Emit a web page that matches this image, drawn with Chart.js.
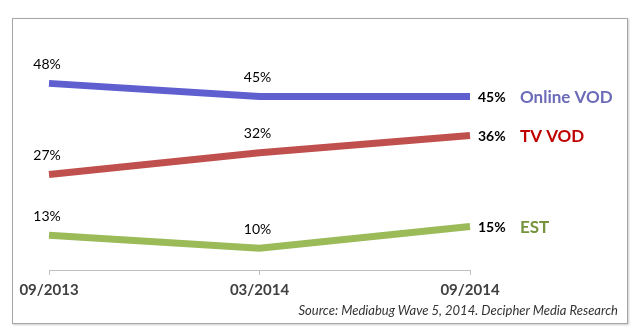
<!DOCTYPE html>
<html>
<head>
<meta charset="utf-8">
<script src="https://cdn.jsdelivr.net/npm/chart.js@4.4.0/dist/chart.umd.min.js"></script>
<style>
  body { margin: 0; background: #fff; }
  #wrap { position: relative; width: 636px; height: 333px; }
  #box { position: absolute; left: 12px; top: 18px; width: 614px; height: 304px; border: 1px solid #a6a6a6; box-shadow: 1px 1px 2px #ccc; }
  #grafico { position: absolute; left: 0; top: 0; }
  #fuente { position: absolute; right: 18px; top: 302px; font: italic 13px Lato, sans-serif; color: #333; }
</style>
</head>
<body>
<div id="wrap">
  <div id="box"></div>
  <canvas id="grafico" width="636" height="333"></canvas>
  <div id="fuente">Source: Mediabug Wave 5, 2014. Decipher Media Research</div>
</div>
<script>
const periodos = ['09/2013', '03/2014', '09/2014'];
const series = ['Online VOD', 'TV VOD', 'EST'];
const onlineVod = [48, 45, 45];
const tvVod = [27, 32, 36];
const est = [13, 10, 15];
const coloresLinea = ['#5f5fd0', '#c0504d', '#9bbb59'];
const coloresTexto = ['#6b6bb8', '#c00000', '#77933c'];

// etiquetas de valor y nombre de cada serie
const etiquetas = {
  id: 'etiquetas',
  afterDatasetsDraw(chart) {
    const ctx = chart.ctx;
    ctx.save();
    chart.data.datasets.forEach((ds, i) => {
      const pts = chart.getDatasetMeta(i).data;
      ds.data.forEach((v, j) => {
        const p = pts[j];
        ctx.fillStyle = '#000';
        if (j < ds.data.length - 1) {
          ctx.font = '14px Lato, sans-serif';
          ctx.textAlign = 'center';
          ctx.textBaseline = 'middle';
          ctx.fillText(v + '%', p.x - 2, p.y - 19);
        } else {
          ctx.font = 'bold 14px Lato, sans-serif';
          ctx.textAlign = 'left';
          ctx.textBaseline = 'middle';
          ctx.fillText(v + '%', p.x + 8, p.y + 1);
          ctx.font = 'bold 17px Lato, sans-serif';
          ctx.fillStyle = coloresTexto[i];
          ctx.fillText(series[i], p.x + 50, p.y + 1);
        }
      });
    });
    ctx.restore();
  }
};

const ctx = document.getElementById('grafico').getContext('2d');
new Chart(ctx, {
  type: 'line',
  data: {
    labels: periodos,
    datasets: [onlineVod, tvVod, est].map((d, i) => ({
      label: series[i],
      data: d,
      borderColor: coloresLinea[i],
      borderWidth: 7,
      pointRadius: 0,
      tension: 0,
      fill: false
    }))
  },
  options: {
    responsive: false,
    animation: false,
    layout: { padding: { left: 49, right: 166, top: 53, bottom: 28 } },
    plugins: { legend: { display: false }, tooltip: { enabled: false } },
    scales: {
      x: {
        offset: false,
        grid: { display: true, drawOnChartArea: false, drawTicks: true, tickLength: 5, color: '#bfbfbf' },
        border: { display: true, color: '#bfbfbf' },
        ticks: { color: '#404040', font: { family: 'Lato', size: 15, weight: 'bold' }, padding: 6, maxRotation: 0 }
      },
      y: { display: false, min: 5, max: 55 }
    }
  },
  plugins: [etiquetas]
});
</script>
</body>
</html>
